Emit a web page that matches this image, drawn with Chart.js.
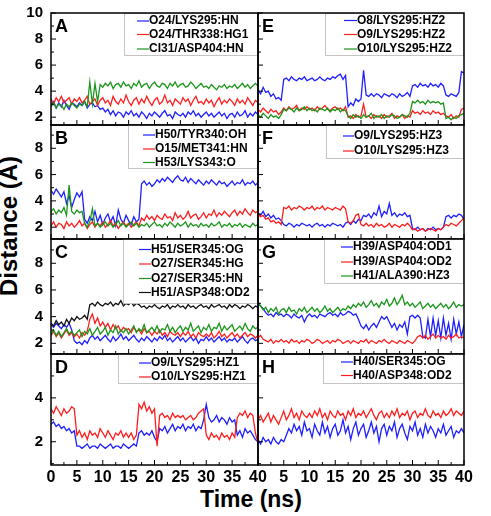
<!DOCTYPE html>
<html lang="en">
<head>
<meta charset="UTF-8">
<title>Distance vs time</title>
<script src="https://cdn.jsdelivr.net/npm/chart.js"></script>
<style>
  body { margin: 0; background: #fff; }
  #wrap { position: relative; width: 491px; height: 516px; overflow: hidden; font-family: "Liberation Sans", Arial, sans-serif; }
  canvas { position: absolute; }
  .title { position: absolute; font-weight: bold; color: #000; white-space: nowrap; }
  #ytitle { font-size: 24px; width: 200px; height: 24px; line-height: 24px; text-align: center; left: -91px; top: 214px; transform: rotate(-90deg); }
  #xtitle { font-size: 23px; line-height: 23px; left: 200px; top: 488px; }
</style>
</head>
<body>
<div id="wrap">
  <div class="title" id="ytitle">Distance (Å)</div>
  <div class="title" id="xtitle">Time (ns)</div>
</div>
<script>
// time axis in ns (one sample every 0.5 ns)
var timeNs = [0,0.5,1,1.5,2,2.5,3,3.5,4,4.5,5,5.5,6,6.5,7,7.5,8,8.5,9,9.5,
  10,10.5,11,11.5,12,12.5,13,13.5,14,14.5,15,15.5,16,16.5,17,17.5,18,18.5,19,19.5,
  20,20.5,21,21.5,22,22.5,23,23.5,24,24.5,25,25.5,26,26.5,27,27.5,28,28.5,29,29.5,
  30,30.5,31,31.5,32,32.5,33,33.5,34,34.5,35,35.5,36,36.5,37,37.5,38,38.5,39,39.5,40];

// tick labels
var xTicksLeft = [0,5,10,15,20,25,30,35,40];
var xTicksRight = [5,10,15,20,25,30,35,40];
var xMinor = [2.5,7.5,12.5,17.5,22.5,27.5,32.5,37.5];
var yTicksA = [2,4,6,8,10];
var yTicksB = [2,4,6,8];
var yTicksC = [2,4,6,8];
var yTicksD = [2,4];

// A
var aLabels = ['O24/LYS295:HN','O24/THR338:HG1','CI31/ASP404:HN'];
var aBlue = [2.9,3.2,2.7,3.1,2.8,3.3,2.9,2.6,3.1,3.0,
  2.8,3.1,2.9,3.2,2.7,3.0,3.1,2.8,2.9,2.6,
  2.7,2.4,2.6,2.2,2.5,2.1,2.4,2.3,2.0,2.4,
  2.2,2.5,2.1,2.3,2.0,2.4,2.2,1.9,2.3,2.1,
  2.4,2.2,2.0,2.3,2.5,2.1,2.2,1.9,2.4,2.2,
  2.1,2.3,2.0,2.4,2.2,2.5,2.1,2.3,2.0,2.2,
  2.4,2.1,2.3,2.0,2.2,2.4,2.1,2.3,1.9,2.2,
  2.3,2.0,2.4,2.1,2.2,2.5,2.0,2.3,2.1,2.4,2.2];
var aRed = [3.4,3.0,3.5,3.2,3.6,3.1,3.3,3.5,3.0,3.4,
  3.2,3.5,3.1,3.3,3.6,3.0,3.2,3.4,2.9,3.3,
  3.5,3.1,3.3,2.9,3.6,3.2,3.0,3.4,3.1,3.7,
  3.2,2.9,3.3,3.5,3.0,3.4,3.1,3.6,3.2,2.9,
  3.3,3.5,3.0,3.2,3.7,3.1,3.3,2.9,3.4,3.2,
  3.0,3.5,3.2,3.4,2.9,3.3,3.6,3.1,3.2,3.0,
  3.4,3.1,3.3,2.8,3.2,3.5,3.0,3.3,3.1,3.4,
  3.2,2.9,3.4,3.1,3.3,3.0,3.5,3.2,2.9,3.3,3.1];
var aGreen = [2.8,3.1,2.7,3.0,2.9,2.6,3.0,2.8,3.1,2.9,
  2.7,3.0,2.9,3.2,2.8,4.7,3.0,4.6,3.2,4.5,
  4.3,4.6,4.4,4.7,4.2,4.5,4.6,4.3,4.7,4.4,
  4.5,4.2,4.6,4.4,4.8,4.3,4.5,4.6,4.2,4.5,
  4.7,4.4,4.3,4.6,4.5,4.2,4.6,4.4,4.7,4.3,
  4.5,4.6,4.3,4.4,4.7,4.5,4.2,4.4,4.6,4.3,
  4.4,4.2,4.5,4.3,4.1,4.4,4.3,4.5,4.2,4.4,
  4.3,4.5,4.2,4.4,4.6,4.3,4.5,4.2,4.4,4.6,4.4];

// B
var bLabels = ['H50/TYR340:OH','O15/MET341:HN','H53/LYS343:O'];
var bBlue = [4.8,4.5,4.9,4.6,4.3,4.7,3.8,4.4,3.5,4.1,
  4.6,4.3,4.7,2.6,2.3,2.8,2.5,3.2,2.4,2.9,
  2.2,2.7,3.0,2.4,2.8,2.1,3.3,2.6,2.3,2.9,
  2.5,2.2,2.8,2.4,2.6,5.3,5.5,5.2,5.4,5.1,
  5.3,5.6,5.4,5.7,5.5,5.8,5.6,5.4,5.7,5.9,
  5.6,5.5,5.8,5.4,5.7,5.5,5.3,5.6,5.4,5.2,
  5.5,5.3,5.6,5.4,5.2,5.5,5.3,5.4,5.1,5.3,
  5.5,5.2,5.4,5.3,5.6,5.2,5.4,5.3,5.5,5.2,5.4];
var bRed = [2.1,2.4,2.0,2.3,2.2,1.9,2.4,2.1,2.3,2.0,
  2.2,2.5,2.1,2.3,1.9,2.2,2.4,2.0,2.3,2.1,
  2.4,2.0,2.2,2.5,2.1,2.3,1.9,2.2,2.4,2.1,
  2.3,2.0,2.2,2.4,2.1,2.7,2.5,2.9,2.6,2.8,
  2.5,2.9,2.7,2.6,3.0,2.7,2.8,2.5,3.1,2.7,
  2.9,2.6,2.8,3.2,2.7,2.9,3.0,2.6,2.8,3.1,
  2.7,3.0,2.9,3.3,2.8,3.1,2.9,3.2,3.0,2.8,
  3.1,3.3,2.9,3.2,3.0,3.4,3.1,2.9,3.3,3.1,3.2];
var bGreen = [3.2,3.4,3.0,3.3,3.1,3.5,2.9,5.2,3.2,3.0,
  3.3,3.1,3.2,2.3,2.0,2.4,3.4,2.1,2.3,2.0,
  2.2,2.4,2.1,2.3,2.0,2.2,2.5,2.1,2.3,2.0,
  2.2,2.4,2.1,2.3,2.0,2.2,2.1,2.3,2.0,2.2,
  2.4,2.1,2.2,2.0,2.3,2.1,2.4,2.2,2.0,2.3,
  2.1,2.2,2.4,2.0,2.3,2.1,2.2,2.0,2.3,2.1,
  2.2,2.0,2.3,2.1,2.2,2.4,2.0,2.2,2.1,2.3,
  2.0,2.2,2.1,2.3,2.0,2.2,2.1,2.0,2.3,2.1,2.2];

// C
var cLabels = ['H51/SER345:OG','O27/SER345:HG','O27/SER345:HN','H51/ASP348:OD2'];
var cBlue = [3.4,3.2,3.5,3.3,3.1,3.4,3.2,3.5,3.0,2.2,
  2.0,2.1,1.9,2.2,2.0,2.4,2.6,2.3,2.5,2.2,
  2.4,2.6,2.3,2.1,2.5,2.2,2.4,2.7,2.3,2.5,
  2.2,2.4,2.6,2.3,2.1,2.4,2.2,2.5,2.3,2.1,
  2.4,2.2,2.5,2.3,2.6,2.2,2.4,2.1,2.3,2.5,
  2.2,2.4,2.1,2.3,2.5,2.2,2.4,2.0,2.3,2.2,
  2.5,2.2,2.4,2.1,2.3,2.5,2.2,2.4,2.1,2.3,
  2.2,2.4,2.1,2.3,2.5,2.2,2.0,2.3,2.4,2.2,2.3];
var cRed = [2.6,2.9,2.5,2.8,2.4,2.7,3.0,2.6,2.8,2.5,
  2.7,2.4,2.8,2.6,2.9,3.8,4.2,3.5,3.9,3.3,
  3.6,3.2,3.5,3.0,3.4,3.1,3.3,2.9,3.2,3.0,
  3.1,2.8,3.2,2.9,3.0,2.7,3.1,2.8,2.9,2.6,
  2.9,2.7,3.0,2.6,2.8,2.5,2.9,2.7,2.6,2.8,
  2.5,2.8,2.6,2.9,2.5,2.7,2.4,2.8,2.6,2.5,
  2.7,2.5,2.8,2.4,2.6,2.9,2.5,2.7,2.4,2.6,
  2.8,2.5,2.7,2.4,2.6,2.8,2.5,2.7,2.6,2.4,2.6];
var cGreen = [2.7,3.0,2.6,2.9,2.5,2.8,3.1,2.7,2.9,2.6,
  2.8,3.0,2.5,2.9,2.7,3.1,2.6,2.9,3.2,2.7,
  2.9,3.2,2.6,3.0,2.8,3.3,2.7,3.0,2.8,3.1,
  2.7,3.0,3.3,2.8,3.1,2.9,3.4,2.8,3.0,3.2,
  2.9,3.3,2.8,3.1,3.0,3.4,2.9,3.2,2.8,3.1,
  3.3,2.9,3.2,3.0,3.5,2.9,3.1,3.3,2.8,3.2,
  3.0,3.4,2.9,3.2,3.1,3.5,2.9,3.3,3.0,3.2,
  3.4,2.9,3.1,3.3,3.0,3.5,3.1,2.9,3.3,3.1,3.2];
var cBlack = [3.5,3.3,3.7,3.4,3.6,3.3,3.8,3.5,3.9,3.7,
  4.0,3.8,3.9,4.1,3.8,4.9,5.0,4.8,5.1,4.9,
  4.8,5.0,4.9,5.1,4.8,5.0,4.9,5.2,4.8,5.0,
  4.9,5.1,4.8,5.0,4.9,4.7,4.8,4.6,4.8,4.7,
  4.9,4.7,4.6,4.8,4.7,4.9,4.6,4.8,4.7,4.9,
  4.7,4.8,4.6,4.9,4.7,4.8,4.6,4.8,4.9,4.7,
  4.8,4.6,4.9,4.7,4.8,4.9,4.7,4.8,4.6,4.9,
  4.7,4.9,4.8,4.6,4.8,4.7,4.9,4.8,4.6,4.8,4.7];

// D
var dLabels = ['O9/LYS295:HZ1','O10/LYS295:HZ1'];
var dBlue = [2.8,2.9,2.7,2.8,2.6,2.7,2.5,2.6,2.4,2.5,
  1.8,1.8,1.7,1.8,1.9,1.7,1.8,1.8,1.7,1.9,
  1.8,1.7,1.8,1.9,1.7,1.8,1.8,1.7,1.9,1.8,
  1.7,1.8,1.9,1.8,2.4,2.5,2.3,2.4,2.3,2.5,
  2.2,2.0,2.6,2.5,2.7,2.4,2.6,2.8,2.5,2.7,
  2.6,2.8,2.5,2.7,2.6,2.8,2.5,2.7,2.6,3.0,
  3.7,3.1,2.9,3.0,3.2,2.9,3.1,3.0,2.8,3.1,
  2.9,3.0,2.3,2.5,2.2,2.6,2.4,2.5,2.3,2.1,2.0];
var dRed = [3.5,3.3,3.6,3.4,3.2,3.5,3.3,3.4,3.6,3.5,
  2.3,2.5,2.2,2.4,2.1,2.5,2.3,2.4,2.2,2.6,
  2.4,2.2,2.5,2.3,2.1,2.4,2.3,2.5,2.2,2.4,
  2.2,2.4,2.1,2.3,3.7,3.5,3.8,3.4,3.6,3.3,
  3.5,1.8,3.2,3.3,3.1,3.2,3.0,3.3,3.1,3.2,
  3.1,3.2,3.0,3.1,3.2,3.0,3.1,3.3,3.4,3.5,
  2.3,2.1,2.4,2.2,2.3,2.1,2.4,2.2,2.3,2.1,
  2.4,2.2,3.1,3.3,3.2,3.4,3.1,3.3,3.2,2.4,1.9];

// E
var eLabels = ['O8/LYS295:HZ2','O9/LYS295:HZ2','O10/LYS295:HZ2'];
var eBlue = [4.1,3.8,4.3,3.9,4.0,3.6,3.8,3.4,3.5,3.3,
  4.9,5.0,4.8,5.1,4.9,4.8,5.0,4.9,5.1,4.8,
  4.9,5.0,4.8,4.9,5.1,4.9,4.8,5.0,4.9,5.1,
  5.0,5.2,5.3,4.9,5.2,2.8,3.1,2.9,3.4,3.2,
  3.4,5.6,3.7,3.6,3.8,3.6,3.8,3.7,3.5,3.8,
  3.7,3.6,3.8,3.7,3.5,3.8,3.6,3.7,3.9,3.6,
  4.4,4.5,4.3,4.6,4.4,4.5,4.3,4.6,4.4,4.5,
  4.3,4.6,4.4,3.7,3.6,3.8,3.7,3.6,3.9,5.5,5.4];
var eRed = [2.6,2.4,2.7,2.5,2.3,2.6,2.4,2.5,2.2,2.4,
  2.7,2.5,2.8,2.6,2.7,2.9,2.5,2.7,2.6,2.8,
  2.6,2.7,2.5,2.8,2.6,2.7,2.9,2.6,2.5,2.7,
  2.8,2.6,2.7,2.5,2.8,2.0,2.1,1.9,2.2,2.0,
  2.1,3.0,2.0,2.1,1.9,2.2,2.0,2.1,1.9,2.2,
  2.0,2.1,2.3,1.9,2.1,2.0,2.2,1.9,2.1,2.0,
  2.5,2.3,2.4,2.2,2.5,2.3,2.4,2.2,2.5,2.3,
  2.4,2.2,2.3,2.1,2.0,2.2,1.9,2.1,2.0,2.6,2.7];
var eGreen = [2.2,2.0,2.3,2.1,1.9,2.2,2.0,2.1,1.9,2.2,
  2.6,2.5,2.7,2.6,2.4,2.7,2.5,2.6,2.8,2.5,
  2.7,2.5,2.6,2.4,2.7,2.6,2.5,2.7,2.4,2.6,
  2.5,2.7,2.4,2.6,2.5,2.1,1.9,2.2,2.0,2.1,
  1.9,2.2,2.0,2.1,2.3,1.9,2.1,2.0,2.2,1.9,
  2.1,2.0,2.2,2.1,1.9,2.0,2.2,2.1,2.0,2.3,
  3.2,3.1,3.3,3.1,3.2,3.0,3.3,3.1,3.2,3.1,
  3.2,3.0,3.1,1.9,2.0,1.8,2.0,1.9,2.1,2.2,2.3];

// F
var fLabels = ['O9/LYS295:HZ3','O10/LYS295:HZ3'];
var fBlue = [3.1,2.9,3.2,2.8,3.0,2.7,2.9,2.6,2.7,2.5,
  2.2,2.1,2.3,2.2,2.0,2.2,2.1,2.3,2.2,2.1,
  2.2,2.0,2.2,2.3,2.1,2.2,2.0,2.2,2.1,2.3,
  2.2,2.1,2.2,2.0,2.3,2.4,2.2,2.5,2.3,2.6,
  2.5,2.9,2.8,3.0,2.7,3.1,2.9,3.6,2.8,3.2,
  3.0,3.8,2.9,3.1,2.8,3.0,2.9,3.1,2.8,2.9,
  1.9,1.8,2.0,1.8,1.9,1.7,1.9,1.8,2.0,1.8,
  1.9,1.8,2.0,2.8,2.9,2.7,2.9,2.8,3.0,2.9,2.6];
var fRed = [3.0,2.8,2.9,2.6,2.7,2.4,2.5,2.3,2.4,2.2,
  3.5,3.4,3.6,3.3,3.5,3.4,3.6,3.5,3.3,3.5,
  3.4,3.6,3.3,3.5,3.4,3.6,3.3,3.5,3.4,3.3,
  3.5,3.4,3.3,3.6,3.4,2.4,2.3,2.5,2.9,3.0,
  2.2,2.1,2.3,2.1,2.2,2.0,2.3,2.1,2.2,2.0,
  2.1,2.3,2.0,2.2,2.1,2.0,2.2,2.1,2.3,2.1,
  1.8,1.9,1.7,1.8,1.9,1.7,1.8,1.9,1.8,1.7,
  1.9,1.8,2.0,2.2,2.1,2.3,2.2,2.1,2.3,2.5,2.7];

// G
var gLabels = ['H39/ASP404:OD1','H39/ASP404:OD2','H41/ALA390:HZ3'];
var gBlue = [4.9,4.8,4.6,4.3,4.1,4.2,4.0,4.3,4.1,4.2,
  4.0,4.2,4.1,3.9,4.2,4.0,3.9,4.1,3.6,4.0,
  4.2,4.0,4.1,3.9,4.2,4.1,4.0,4.2,4.3,4.1,
  4.2,4.0,4.3,4.1,4.2,4.4,4.3,4.1,4.2,3.8,
  3.3,3.1,3.4,3.0,3.3,3.5,3.2,3.6,4.0,3.8,
  4.0,3.6,3.2,3.5,3.0,3.4,3.2,3.6,2.7,4.0,
  4.1,3.9,4.1,3.9,2.5,2.4,3.8,2.5,3.9,2.6,
  3.7,2.4,3.9,2.6,3.5,2.3,3.8,2.7,3.6,2.5,3.4];
var gRed = [2.4,2.6,2.3,2.2,2.1,2.3,2.0,2.2,2.1,2.3,
  2.1,2.2,2.0,2.3,2.1,2.2,2.0,2.2,2.1,2.3,
  2.2,2.0,2.1,2.3,2.2,2.0,2.1,2.2,2.0,2.2,
  2.1,2.3,2.2,2.0,2.1,2.2,2.0,2.2,2.1,2.0,
  2.2,2.1,2.3,2.0,2.2,2.1,2.0,2.2,2.1,2.3,
  2.1,2.0,2.2,2.1,2.0,2.2,2.1,2.0,2.2,2.1,
  2.0,2.2,2.5,2.6,2.4,2.6,2.3,2.5,2.7,2.4,
  2.6,2.4,2.5,2.3,2.6,2.4,2.5,2.7,2.4,2.5,2.4];
var gGreen = [5.1,4.8,4.5,4.7,4.3,4.6,4.4,4.7,4.2,4.5,
  4.6,4.3,4.7,4.4,4.5,4.2,4.6,4.4,4.7,4.3,
  4.5,4.7,4.4,4.6,4.3,4.5,4.8,4.4,4.6,4.3,
  4.5,4.7,4.4,4.6,4.5,4.8,4.6,4.9,4.7,5.0,
  4.8,5.1,4.7,4.9,5.2,4.8,5.0,4.7,5.1,4.9,
  5.3,4.8,5.0,5.4,4.9,5.2,5.6,4.9,5.1,4.8,
  5.0,4.7,4.9,5.1,4.6,4.8,5.0,4.7,4.9,4.6,
  4.8,5.0,4.7,4.9,4.6,4.8,5.1,4.7,4.9,4.8,4.9];

// H
var hLabels = ['H40/SER345:OG','H40/ASP348:OD2'];
var hBlue = [2.1,1.9,2.2,2.0,2.1,1.9,2.2,2.0,1.9,2.1,
  2.0,2.3,2.6,2.4,2.8,2.5,2.7,2.3,2.9,2.5,
  2.6,2.2,2.8,2.5,2.3,2.9,2.4,2.7,2.2,2.6,
  2.8,2.3,2.5,3.0,2.4,2.7,2.1,2.6,2.9,2.3,
  2.6,2.8,2.2,2.5,2.9,2.4,2.7,2.0,2.6,2.8,
  2.3,2.7,2.5,2.9,2.2,2.6,2.8,2.4,2.1,2.7,
  2.5,2.9,2.3,2.6,2.2,2.8,2.4,2.7,2.5,2.2,
  2.6,2.4,2.8,2.3,2.5,2.7,2.2,2.5,2.4,2.6,2.4];
var hRed = [3.0,3.2,2.9,3.1,3.3,2.9,3.2,3.0,2.8,3.1,
  3.4,3.0,3.2,3.5,3.1,3.3,3.0,3.4,3.2,3.1,
  3.3,3.1,3.4,3.2,3.5,3.1,3.3,3.0,3.4,3.2,
  3.1,3.4,3.2,3.3,3.0,3.4,3.2,3.5,3.1,3.3,
  3.2,3.4,3.1,3.3,3.5,3.2,3.0,3.3,3.4,3.1,
  3.3,3.1,3.4,3.2,3.5,3.1,3.3,3.2,3.4,3.0,
  3.3,3.4,3.1,3.3,3.2,3.5,3.2,3.1,3.4,3.2,
  3.3,3.1,3.4,3.2,3.3,3.5,3.2,3.4,3.3,3.2,3.4];

var BLUE = '#2020ff', RED = '#ff1e1e', GREEN = '#1b961b', BLACK = '#111111';

// row geometry (page px) and y ranges, shared by the left and right column
var rowTop = [13, 125, 239, 354];
var rowBottom = [125, 239, 354, 465];
var yMin = [1.4, 1.1, 1.2, 0.94];
var yMax = [10, 9.77, 9.82, 6];
var yTicks = [yTicksA, yTicksB, yTicksC, yTicksD];
var yMinor = [[3,5,7,9], [3,5,7,9], [3,5,7,9], [1,3,5]];

var panels = [
  {letter: 'A', col: 0, row: 0, labels: aLabels, values: [aBlue, aRed, aGreen], colors: [BLUE, RED, GREEN],
   legend: {x0: 124, y1: 55, lineX: 137, textX: 149, rows: [21, 34.5, 49]}},
  {letter: 'B', col: 0, row: 1, labels: bLabels, values: [bBlue, bRed, bGreen], colors: [BLUE, RED, GREEN],
   legend: {x0: 128, y1: 168, lineX: 143, textX: 155, rows: [135, 149, 162.5]}},
  {letter: 'C', col: 0, row: 2, labels: cLabels, values: [cBlue, cRed, cGreen, cBlack], colors: [BLUE, RED, GREEN, BLACK],
   legend: {x0: 123, y1: 303, lineX: 139, textX: 151, rows: [249.5, 264, 278.5, 292.5]}},
  {letter: 'D', col: 0, row: 3, labels: dLabels, values: [dBlue, dRed], colors: [BLUE, RED],
   legend: {x0: 118, y1: 383, lineX: 139, textX: 151, rows: [363, 377]}},
  {letter: 'E', col: 1, row: 0, labels: eLabels, values: [eBlue, eRed, eGreen], colors: [BLUE, RED, GREEN],
   legend: {x0: 325, y1: 55, lineX: 344, textX: 357, rows: [20.5, 34.5, 49]}},
  {letter: 'F', col: 1, row: 1, labels: fLabels, values: [fBlue, fRed], colors: [BLUE, RED],
   legend: {x0: 326, y1: 158, lineX: 343, textX: 354, rows: [136, 151]}},
  {letter: 'G', col: 1, row: 2, labels: gLabels, values: [gBlue, gRed, gGreen], colors: [BLUE, RED, GREEN],
   legend: {x0: 324, y1: 283, lineX: 341, textX: 353, rows: [247, 262, 276]}},
  {letter: 'H', col: 1, row: 3, labels: hLabels, values: [hBlue, hRed], colors: [BLUE, RED],
   legend: {x0: 323, y1: 383, lineX: 341, textX: 353, rows: [362, 375.5]}}
];

Chart.defaults.font.family = '"Liberation Sans", Arial, sans-serif';
Chart.defaults.color = '#000';

// frame, inward ticks, panel letter and the boxed legend
function decoPlugin(p, offX, offY) {
  return {
    id: 'deco' + p.letter,
    afterDatasetsDraw: function (chart) {
      var ctx = chart.ctx, a = chart.chartArea;
      var xs = chart.scales.x, ys = chart.scales.y;
      var lg = p.legend;
      ctx.save();

      // legend box
      var bx = lg.x0 - offX, by = lg.y1 - offY;
      ctx.fillStyle = '#fff';
      ctx.fillRect(bx, a.top, a.right - bx, by - a.top);
      ctx.strokeStyle = '#c4c4c4';
      ctx.lineWidth = 1;
      ctx.strokeRect(bx + 0.5, a.top + 0.5, a.right - bx - 1, by - a.top);
      ctx.font = 'bold 12px "Liberation Sans", Arial, sans-serif';
      ctx.textBaseline = 'middle';
      chart.data.datasets.forEach(function (ds, i) {
        var y = lg.rows[i] - offY;
        ctx.strokeStyle = ds.borderColor;
        ctx.lineWidth = 1.2;
        ctx.beginPath();
        ctx.moveTo(lg.lineX - offX, y);
        ctx.lineTo(lg.textX - offX, y);
        ctx.stroke();
        ctx.fillStyle = '#000';
        ctx.fillText(ds.label, lg.textX - offX, y);
      });

      // inward ticks
      ctx.strokeStyle = '#000';
      ctx.lineWidth = 1;
      ctx.beginPath();
      xTicksLeft.forEach(function (v) {
        var x = xs.getPixelForValue(v);
        ctx.moveTo(x, a.bottom); ctx.lineTo(x, a.bottom - 5);
      });
      xMinor.forEach(function (v) {
        var x = xs.getPixelForValue(v);
        ctx.moveTo(x, a.bottom); ctx.lineTo(x, a.bottom - 3);
      });
      yTicks[p.row].forEach(function (v) {
        var y = ys.getPixelForValue(v);
        ctx.moveTo(a.left, y); ctx.lineTo(a.left + 5, y);
      });
      yMinor[p.row].forEach(function (v) {
        var y = ys.getPixelForValue(v);
        ctx.moveTo(a.left, y); ctx.lineTo(a.left + 3, y);
      });
      ctx.stroke();

      // frame
      ctx.lineWidth = 1.5;
      ctx.strokeRect(a.left, a.top, a.right - a.left, a.bottom - a.top);

      // panel letter
      ctx.fillStyle = '#000';
      ctx.font = 'bold 18px "Liberation Sans", Arial, sans-serif';
      ctx.textBaseline = 'alphabetic';
      ctx.fillText(p.letter, a.left + 4, a.top + 18.5);
      ctx.restore();
    }
  };
}

var wrap = document.getElementById('wrap');

panels.forEach(function (p) {
  var left = p.col === 0;
  var bottom = p.row === 3;
  var padTop = 20, padBottom = bottom ? 8 : 20;
  var cl = left ? 0 : 246;
  var cw = left ? 272 : 245;
  var ct = rowTop[p.row] - padTop;
  var ch = rowBottom[p.row] - rowTop[p.row] + padTop + padBottom + (bottom ? 24 : 0);
  var cv = document.createElement('canvas');
  cv.width = cw;
  cv.height = ch;
  cv.style.left = cl + 'px';
  cv.style.top = ct + 'px';
  wrap.appendChild(cv);

  var datasets = p.values.map(function (vals, i) {
    return {
      label: p.labels[i],
      data: timeNs.map(function (t, k) { return {x: t, y: vals[k]}; }),
      borderColor: p.colors[i],
      borderWidth: 1.3,
      pointRadius: 0,
      tension: 0,
      order: -i
    };
  });

  var xTickList = left ? xTicksLeft : xTicksRight;

  new Chart(cv, {
    type: 'line',
    data: {datasets: datasets},
    options: {
      responsive: false,
      animation: false,
      events: [],
      layout: {padding: {left: left ? 0 : 12, right: left ? 14 : 27, top: padTop, bottom: padBottom}},
      plugins: {legend: {display: false}, tooltip: {enabled: false}},
      scales: {
        x: {
          type: 'linear', min: 0, max: 40,
          display: bottom,
          afterBuildTicks: function (s) { s.ticks = xTickList.map(function (v) { return {value: v}; }); },
          afterFit: function (s) { if (bottom) { s.height = 24; } },
          grid: {display: false, drawTicks: false},
          border: {display: false},
          ticks: {font: {size: 16, weight: 'bold'}, color: '#000', padding: 3, autoSkip: false, maxRotation: 0}
        },
        y: {
          type: 'linear', min: yMin[p.row], max: yMax[p.row],
          display: left,
          afterBuildTicks: function (s) { s.ticks = yTicks[p.row].map(function (v) { return {value: v}; }); },
          afterFit: function (s) { if (left) { s.width = 51; } },
          grid: {display: false, drawTicks: false},
          border: {display: false},
          ticks: {font: {size: 15, weight: 'bold'}, color: '#000', padding: 8, autoSkip: false}
        }
      }
    },
    plugins: [decoPlugin(p, cl, ct)]
  });
});
</script>
</body>
</html>
